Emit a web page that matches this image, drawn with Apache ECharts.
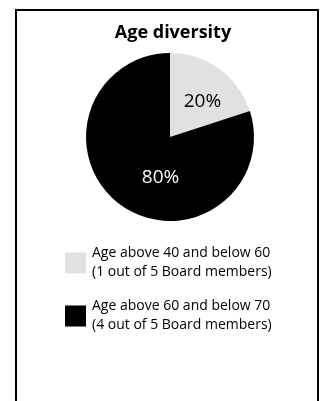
<!DOCTYPE html>
<html>
<head>
<meta charset="utf-8">
<script src="https://cdn.jsdelivr.net/npm/echarts@6/dist/echarts.min.js"></script>
<style>
  html, body { margin: 0; padding: 0; background: #fff; }
  #frame {
    position: absolute; left: 15px; top: 9px; width: 300px; height: 400px;
    border: 2px solid #000; border-bottom: none;
  }
  #chart { position: absolute; left: 0; top: 0; width: 323px; height: 401px; }
</style>
</head>
<body>
<div id="frame"></div>
<div id="chart"></div>
<script>
const categories = [
  "Age above 40 and below 60\n(1 out of 5 Board members)",
  "Age above 60 and below 70\n(4 out of 5 Board members)",
];
const shares = [20, 80];
const sliceColors = ["#e0e1e3", "#000000"];
const labelColors = ["#000000", "#ffffff"];
const labelOffsets = [[6, 1], [17, 4]];

const chart = echarts.init(document.getElementById("chart"));

chart.setOption({
  animation: false,
  title: {
    text: "Age diversity",
    left: 168,
    top: 19,
    textAlign: "center",
    textStyle: { fontFamily: "Open Sans", fontSize: 18, fontWeight: "bold", color: "#000" },
  },
  legend: {
    orient: "vertical",
    left: 60,
    top: 239,
    itemWidth: 21,
    itemHeight: 21,
    itemGap: 15,
    icon: "rect",
    data: categories,
    textStyle: {
      fontFamily: "Open Sans",
      fontSize: 14,
      lineHeight: 19,
      color: "#000",
      padding: [0, 0, 0, 1],
    },
  },
  series: [
    {
      type: "pie",
      center: [170, 137],
      radius: 84,
      startAngle: 90,
      clockwise: true,
      silent: true,
      label: {
        show: true,
        position: "inside",
        fontFamily: "Open Sans",
        fontSize: 19,
        formatter: "{c}%",
      },
      labelLine: { show: false },
      data: categories.map((name, i) => ({
        name,
        value: shares[i],
        itemStyle: { color: sliceColors[i] },
        label: { color: labelColors[i], offset: labelOffsets[i] },
      })),
    },
  ],
});
</script>
</body>
</html>
